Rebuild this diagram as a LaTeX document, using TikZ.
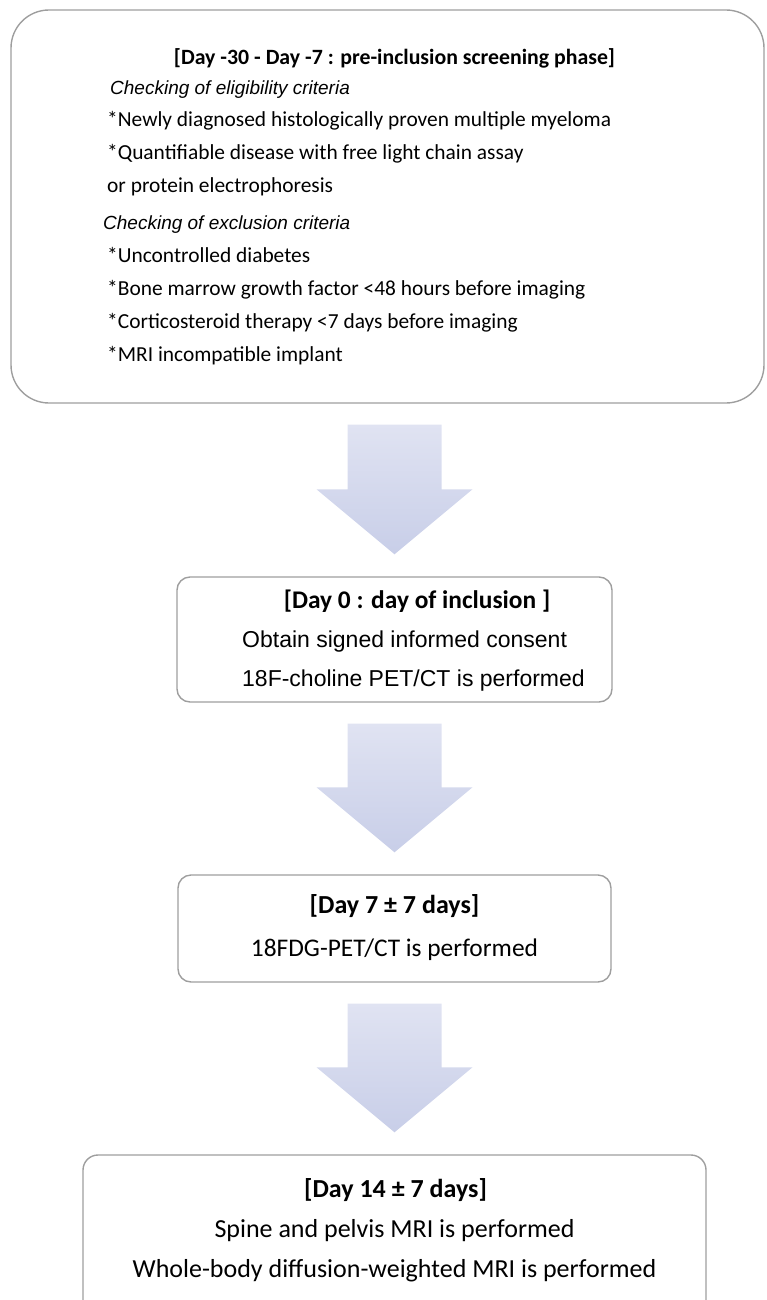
\documentclass[tikz,border=0pt]{standalone}
\usepackage{fontspec}
\setmainfont{Carlito}
\newfontfamily\arialfont{Liberation Sans}
\usetikzlibrary{calc}

\definecolor{boxline}{RGB}{158,158,158}
\definecolor{arrowtop}{RGB}{224,227,242}
\definecolor{arrowbot}{RGB}{200,206,232}

\tikzset{
  stage/.style={draw=boxline, line width=1.4pt, inner sep=0pt, rounded corners=#1},
  crit/.style={anchor=base west, inner sep=0pt, font=\fontsize{21.4}{26}\selectfont},
  critcap/.style={anchor=base west, inner sep=0pt, font=\arialfont\itshape\fontsize{19}{23}\selectfont},
  stagehead/.style={anchor=base, inner sep=0pt, font=\bfseries\fontsize{#1}{30}\selectfont},
  stageline/.style={anchor=base, inner sep=0pt, font=\fontsize{#1}{30}\selectfont},
  consentline/.style={anchor=base west, inner sep=0pt, font=\arialfont\fontsize{23}{28}\selectfont}
}

% block arrow from the bottom of #1 to the top of #2
\newcommand{\stagearrow}[2]{%
  \coordinate (#1tail) at (#1.south -| #2.north);
  \shade[top color=arrowtop, bottom color=arrowbot]
    ($(#1tail)+(-47,21)$) -- ($(#1tail)+(47,21)$)
    -- ($(#2.north)+(47,-87)$) -- ($(#2.north)+(78,-87)$)
    -- ($(#2.north)+(0,-22)$) -- ($(#2.north)+(-78,-87)$)
    -- ($(#2.north)+(-47,-87)$) -- cycle;}

\begin{document}
\begin{tikzpicture}[x=1pt, y=-1pt]
\useasboundingbox (0,0) rectangle (766,1300);
%\draw[help lines, step=50] (0,0) grid (766,1300);

\node[stage=38, minimum width=753, minimum height=393] (screen) at (387.5,206.5) {};
\node[stage=13, minimum width=435, minimum height=125] (incl) at (394.5,639.5) {};
\node[stage=13, minimum width=433, minimum height=107] (fdg) at (394.5,928.5) {};
\node[stage=15, minimum width=623, minimum height=165] (mri) at (394.5,1237.5) {};

\stagearrow{screen}{incl}
\stagearrow{incl}{fdg}
\stagearrow{fdg}{mri}

\node[stagehead=21.8] (screenhead) at (394.5,65) {[Day -30 - Day -7 : pre-inclusion screening phase]};
\node[critcap] (elig) at (110,95) {Checking of eligibility criteria};
\node[crit] (elig1) at (107,127) {*Newly diagnosed histologically proven multiple myeloma};
\node[crit] (elig2) at (107,160) {*Quantifiable disease with free light chain assay};
\node[crit] (elig3) at (107,193) {or protein electrophoresis};
\node[critcap] (excl) at (103,229) {Checking of exclusion criteria};
\node[crit] (excl1) at (107,262) {*Uncontrolled diabetes};
\node[crit] (excl2) at (107,295) {*Bone marrow growth factor <48 hours before imaging};
\node[crit] (excl3) at (107,328) {*Corticosteroid therapy <7 days before imaging};
\node[crit] (excl4) at (107,361) {*MRI incompatible implant};

\node[stagehead=25.4] (inclhead) at (417,608) {[Day 0 : day of inclusion ]};
\node[consentline] (consent) at (242,647) {Obtain signed informed consent};
\node[consentline] (choline) at (242,686) {18F-choline PET/CT is performed};

\node[stagehead=26] (fdghead) at (394.5,913) {[Day 7 ± 7 days]};
\node[stageline=25.4] (fdgline) at (394.5,956) {18FDG-PET/CT is performed};

\node[stagehead=26] (mrihead) at (395.5,1197) {[Day 14 ± 7 days]};
\node[stageline=26] (spine) at (394.5,1237) {Spine and pelvis MRI is performed};
\node[stageline=26] (dwi) at (394.5,1277) {Whole-body diffusion-weighted MRI is performed};
\end{tikzpicture}
\end{document}
